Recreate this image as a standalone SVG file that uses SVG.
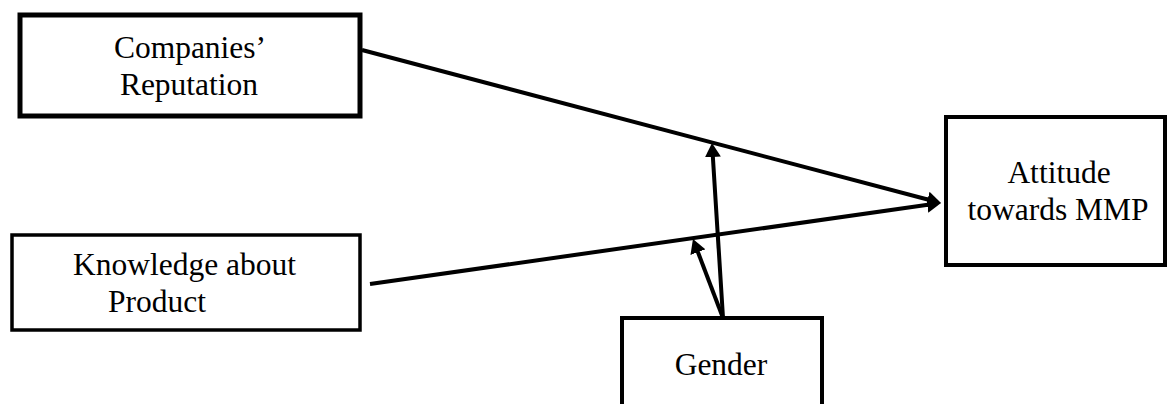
<svg xmlns="http://www.w3.org/2000/svg" width="1169" height="404" viewBox="0 0 1169 404">
<style>
  .box { fill: #ffffff; stroke: #000000; }
  .lbl { font-family: "Liberation Serif", "Times New Roman", serif; font-size: 31.5px; fill: #000000; }
  .c { text-anchor: middle; }
  .conn { stroke: #000000; stroke-width: 4; fill: none; marker-end: url(#arrow); }
</style>
<defs>
  <marker id="arrow" viewBox="0 0 14 16" refX="6" refY="8" markerWidth="14" markerHeight="16" markerUnits="userSpaceOnUse" orient="auto">
    <path d="M0,0 L14,8 L0,16 z" fill="#000000"/>
  </marker>
</defs>
<rect width="1169" height="404" fill="#ffffff"/>
<g id="companies-reputation">
  <rect class="box" x="20" y="15" width="340" height="101" stroke-width="5"/>
  <text class="lbl c" x="190" y="58">Companies’</text>
  <text class="lbl c" x="189" y="95">Reputation</text>
</g>
<g id="knowledge-about-product">
  <rect class="box" x="12" y="235" width="348" height="95" stroke-width="3.5"/>
  <text class="lbl" x="73" y="275">Knowledge about</text>
  <text class="lbl" x="108" y="312">Product</text>
</g>
<g id="attitude">
  <rect class="box" x="946" y="117" width="219" height="148" stroke-width="4"/>
  <text class="lbl c" x="1059" y="183">Attitude</text>
  <text class="lbl c" x="1058" y="220">towards MMP</text>
</g>
<g id="gender">
  <rect class="box" x="622" y="318" width="200" height="100" stroke-width="4"/>
  <text class="lbl c" x="721" y="375">Gender</text>
</g>
<g id="connectors">
  <line class="conn" x1="362" y1="50" x2="933.3" y2="201"/>
  <line class="conn" x1="370" y1="284" x2="933.1" y2="204.1"/>
  <line class="conn" x1="723" y1="318" x2="712.5" y2="151"/>
  <line class="conn" x1="723" y1="318" x2="695.8" y2="246.5"/>
</g>
</svg>
